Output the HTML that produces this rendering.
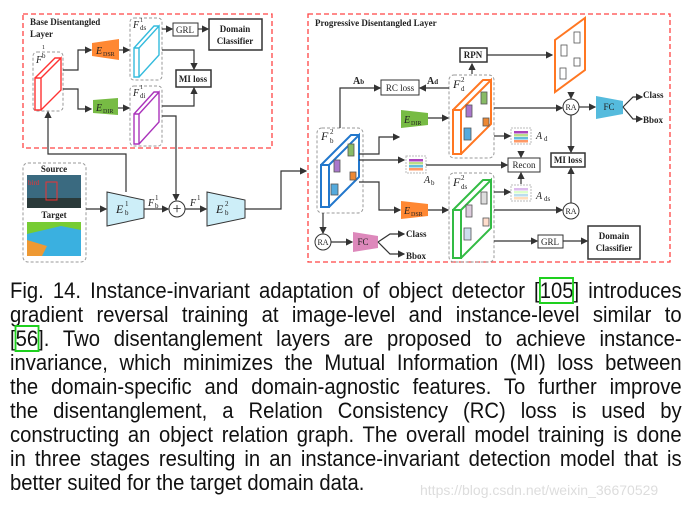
<!DOCTYPE html>
<html><head><meta charset="utf-8"><style>
body{margin:0;width:700px;height:507px;background:#fff;overflow:hidden;position:relative;font-family:"Liberation Sans",sans-serif}
svg{position:absolute;left:0;top:0}
.cap{position:absolute;left:10px;top:279px;width:730px;transform:scaleX(0.92);transform-origin:0 0;font-size:22px;line-height:24px;color:#111}
.cap div{text-align:justify;text-align-last:justify;white-space:nowrap;height:24px}
.cap div.l{text-align-last:left}
.g{outline:2px solid #1ed01e;outline-offset:-1px}
.wm{position:absolute;left:420px;top:482px;font-size:14px;color:#ddd}
</style></head><body>
<svg width="700" height="270" viewBox="0 0 700 270" font-family="Liberation Serif,serif">
<defs><marker id="a" markerWidth="6" markerHeight="6" refX="5" refY="3" orient="auto"><path d="M0,0L6,3L0,6z" fill="#333"/></marker></defs>
<g fill="none" stroke="#f44" stroke-width="1.3" stroke-dasharray="5,3">
<rect x="23" y="14" width="249" height="134"/><rect x="308" y="14" width="362" height="248"/></g>
<g font-weight="bold" font-size="9" fill="#222"><text x="30" y="25">Base Disentangled</text><text x="30" y="37">Layer</text><text x="315" y="26">Progressive Disentangled Layer</text></g>
<g fill="none" stroke="#999" stroke-dasharray="3,2"><rect x="33" y="52" width="30" height="59" rx="4"/><rect x="130" y="18" width="32" height="62" rx="4"/><rect x="130" y="86" width="32" height="60" rx="4"/><rect x="23" y="163" width="63" height="99" rx="5"/><rect x="317" y="128" width="46" height="85" rx="5"/><rect x="449" y="75" width="45" height="83" rx="5"/><rect x="449" y="173" width="45" height="89" rx="5"/></g>
<g fill="#fff" stroke-width="1.4"><path d="M35,78h6v32h-6zM41,78l20,-20v32l-20,20M35,78l20,-20h6" stroke="#f33"/>
<path d="M134,48h5v29h-5zM139,48l20,-22v29l-20,22M134,48l20,-22h5" stroke="#3bd"/>
<path d="M134,114h5v30h-5zM139,114l20,-22v30l-20,22M134,114l20,-22h5" stroke="#a3b"/>
<path d="M321,165h8v42h-8zM329,165l30,-30v42l-30,30M321,165l30,-30h8" stroke="#27c" stroke-width="2"/>
<path d="M453,110h8v44h-8zM461,110l30,-30v44l-30,30M453,110l30,-30h8" stroke="#f72" stroke-width="2"/>
<path d="M453,210h8v48h-8zM461,210l30,-30v48l-30,30M453,210l30,-30h8" stroke="#3b4" stroke-width="2"/>
<path d="M555,40l30,-22v52l-30,22z" stroke="#f72" stroke-width="2"/></g>
<g stroke="#555" stroke-width="0.8"><rect x="334" y="160" width="6" height="12" fill="#a7c"/><rect x="348" y="144" width="6" height="12" fill="#8b6"/><rect x="331" y="184" width="7" height="11" fill="#5ad"/><rect x="350" y="172" width="6" height="8" fill="#e83"/>
<rect x="466" y="105" width="6" height="12" fill="#a7c"/><rect x="481" y="92" width="6" height="12" fill="#8b6"/><rect x="464" y="128" width="7" height="12" fill="#5ad"/><rect x="483" y="118" width="6" height="8" fill="#e83"/>
<rect x="466" y="205" width="6" height="12" fill="#dcd"/><rect x="481" y="192" width="6" height="12" fill="#ddd"/><rect x="464" y="228" width="7" height="12" fill="#cde"/><rect x="483" y="218" width="6" height="8" fill="#fdc"/>
<g fill="#fff"><rect x="561" y="45" width="6" height="11"/><rect x="574" y="32" width="6" height="11"/><rect x="560" y="68" width="6" height="11"/><rect x="574" y="58" width="6" height="8"/></g></g>
<path d="M92,43l27,-4v21l-27,-4z" fill="#f83"/><path d="M93,100l25,-2v17l-25,-2z" fill="#7b4"/>
<path d="M401,110l27,3v12l-27,3z" fill="#7b4"/><path d="M401,201l27,3v12l-27,3z" fill="#f83"/>
<path d="M107,192l37,8v18l-37,8z" fill="#cdeef8" stroke="#333"/><path d="M207,192l38,8v18l-38,8z" fill="#cdeef8" stroke="#333"/>
<path d="M596,96l27,5v13l-27,5z" fill="#5bd"/><path d="M353,232l25,4v12l-25,4z" fill="#d8b"/>
<g font-family="Liberation Serif,serif" font-style="italic" font-size="10" fill="#222"><text x="96" y="54">E</text><text x="96" y="111">E</text><text x="404" y="123">E</text><text x="404" y="214">E</text><text x="116" y="213" font-size="12">E</text><text x="216" y="213" font-size="12">E</text>
<text x="36" y="63">F</text><text x="133" y="28">F</text><text x="133" y="96">F</text><text x="321" y="140" font-size="12">F</text><text x="453" y="88" font-size="12">F</text><text x="453" y="186" font-size="12">F</text>
<text x="148" y="206">F</text><text x="190" y="206">F</text><text x="536" y="139">A</text><text x="424" y="183">A</text><text x="536" y="199">A</text></g>
<g font-size="6" fill="#222"><text x="103" y="56">DSR</text><text x="103" y="113">DIR</text><text x="411" y="125">DIR</text><text x="411" y="216">DSR</text></g>
<g font-weight="bold" font-size="10" fill="#222"><text x="353" y="84">A<tspan font-size="7">b</tspan></text><text x="427" y="84">A<tspan font-size="7">d</tspan></text></g>
<g><rect x="511" y="128" width="20" height="16" fill="#fff" stroke="#bbb" stroke-dasharray="2,1"/><rect x="514" y="131" width="14" height="2.5" fill="#a4b"/><rect x="514" y="134" width="14" height="2.5" fill="#bd8"/><rect x="514" y="137" width="14" height="2.5" fill="#6bd"/><rect x="514" y="140" width="14" height="2.5" fill="#f96"/>
<rect x="406" y="156" width="20" height="17" fill="#fff" stroke="#bbb" stroke-dasharray="2,1"/><rect x="409" y="159" width="14" height="2.5" fill="#a4b"/><rect x="409" y="162" width="14" height="2.5" fill="#bd8"/><rect x="409" y="165" width="14" height="2.5" fill="#6bd"/><rect x="409" y="168" width="14" height="2.5" fill="#f96"/>
<rect x="511" y="185" width="20" height="16" fill="#fff" stroke="#bbb" stroke-dasharray="2,1"/><rect x="514" y="188" width="14" height="2.5" fill="#dbe"/><rect x="514" y="191" width="14" height="2.5" fill="#dfc"/><rect x="514" y="194" width="14" height="2.5" fill="#bde"/><rect x="514" y="197" width="14" height="2.5" fill="#fdb"/></g>
<rect x="27" y="175" width="54" height="33" fill="#3a6a80"/><rect x="27" y="198" width="54" height="10" fill="#2a3a3a"/><rect x="46" y="182" width="11" height="18" fill="none" stroke="#e33"/><text x="28" y="185" font-size="7" fill="#e33">bird</text>
<rect x="27" y="222" width="54" height="34" fill="#3ab0e0"/><path d="M27,222h54v8l-20,-4l-34,8z" fill="#7c3"/><path d="M27,240l20,6l-5,10h-15z" fill="#e93"/>
<g font-weight="bold" font-size="9" fill="#222" text-anchor="middle"><text x="54" y="172">Source</text><text x="54" y="218">Target</text></g>
<g fill="#fff" stroke="#333"><rect x="173" y="23" width="25" height="13"/><rect x="209" y="19" width="53" height="31" stroke-width="1.5"/><rect x="176" y="70" width="35" height="17" stroke-width="1.5"/>
<rect x="460" y="48" width="27" height="14" stroke-width="1.5"/><rect x="381" y="80" width="38" height="15"/><rect x="551" y="153" width="34" height="14" stroke-width="1.5"/><rect x="508" y="158" width="32" height="14"/><rect x="538" y="235" width="25" height="13"/><rect x="588" y="226" width="52" height="33" stroke-width="1.5"/>
<circle cx="177" cy="209" r="8"/><circle cx="571" cy="107" r="8"/><circle cx="571" cy="211" r="8"/><circle cx="323" cy="242" r="8"/></g>
<g font-size="9" fill="#222" text-anchor="middle"><text x="185" y="33">GRL</text><text x="400" y="91">RC loss</text><text x="524" y="168">Recon</text><text x="550" y="245">GRL</text><text x="571" y="110" font-size="8">RA</text><text x="571" y="214" font-size="8">RA</text><text x="323" y="245" font-size="8">RA</text><text x="609" y="110">FC</text><text x="363" y="245">FC</text><text x="177" y="214" font-size="16">+</text>
<g font-weight="bold"><text x="235" y="32">Domain</text><text x="235" y="44">Classifier</text><text x="193" y="82">MI loss</text><text x="473" y="58">RPN</text><text x="568" y="163">MI loss</text><text x="614" y="239">Domain</text><text x="614" y="251">Classifier</text></g>
<g font-weight="bold" text-anchor="start"><text x="643" y="98">Class</text><text x="643" y="123">Bbox</text><text x="406" y="237">Class</text><text x="406" y="259">Bbox</text></g></g>
<g fill="none" stroke="#333" stroke-width="1.2" marker-end="url(#a)">
<path d="M63,70h15v-20h13"/><path d="M63,89h15v20h13"/><path d="M119,50h10"/><path d="M118,108h11"/>
<path d="M162,29h10"/><path d="M198,29h10"/><path d="M162,50h32v19"/><path d="M162,106h32v-18"/>
<path d="M126,192v-38h-78v-42"/><path d="M86,209h20"/><path d="M144,209h24"/><path d="M162,116h14v84"/><path d="M185,209h21"/>
<path d="M245,209h36v-38h25"/>
<path d="M359,154h20v-17h20"/><path d="M359,160h45"/><path d="M428,118h20"/><path d="M359,182h20v28h21"/><path d="M428,210h20"/>
<path d="M340,128v-40h40"/><path d="M449,88h-29"/><path d="M472,74v-10"/><path d="M487,55h65"/><path d="M571,92v6"/>
<path d="M494,108h68"/><path d="M579,107h16"/><path d="M571,115v37"/><path d="M571,203v-35"/><path d="M494,210h68"/>
<path d="M494,136h16"/><path d="M426,165h81"/><path d="M521,152v5"/><path d="M494,192h16"/><path d="M521,184v-11"/>
<path d="M494,241h43"/><path d="M563,241h24"/><path d="M323,213v20"/><path d="M331,242h21"/>
<path d="M623,107l10,-10h9"/><path d="M623,107l10,12h9"/><path d="M378,242l12,-8h14"/><path d="M378,242l12,12h14"/>
</g>
<g font-family="Liberation Serif,serif" font-size="7" fill="#222"><text x="42" y="58">b</text><text x="42" y="49" font-size="6">1</text><text x="140" y="22" font-size="6">1</text><text x="140" y="30">ds</text><text x="140" y="89" font-size="6">1</text><text x="140" y="98">di</text>
<text x="330" y="143">b</text><text x="330" y="134">2</text><text x="461" y="91">d</text><text x="461" y="82">2</text><text x="461" y="189">ds</text><text x="461" y="180">2</text>
<text x="125" y="215">b</text><text x="125" y="206">1</text><text x="225" y="215">b</text><text x="225" y="206">2</text><text x="155" y="208">b</text><text x="155" y="200">1</text><text x="197" y="200">1</text><text x="544" y="141">d</text><text x="431" y="185">b</text><text x="544" y="201">ds</text></g>
</svg>
<div class="cap">
<div>Fig. 14. Instance-invariant adaptation of object detector [<span class="g">105</span>] introduces</div>
<div>gradient reversal training at image-level and instance-level similar to</div>
<div>[<span class="g">56</span>]. Two disentanglement layers are proposed to achieve instance-</div>
<div>invariance, which minimizes the Mutual Information (MI) loss between</div>
<div>the domain-specific and domain-agnostic features. To further improve</div>
<div>the disentanglement, a Relation Consistency (RC) loss is used by</div>
<div>constructing an object relation graph. The overall model training is done</div>
<div>in three stages resulting in an instance-invariant detection model that is</div>
<div class="l">better suited for the target domain data.</div>
</div>
<div class="wm">https://blog.csdn.net/weixin_36670529</div>
</body></html>
